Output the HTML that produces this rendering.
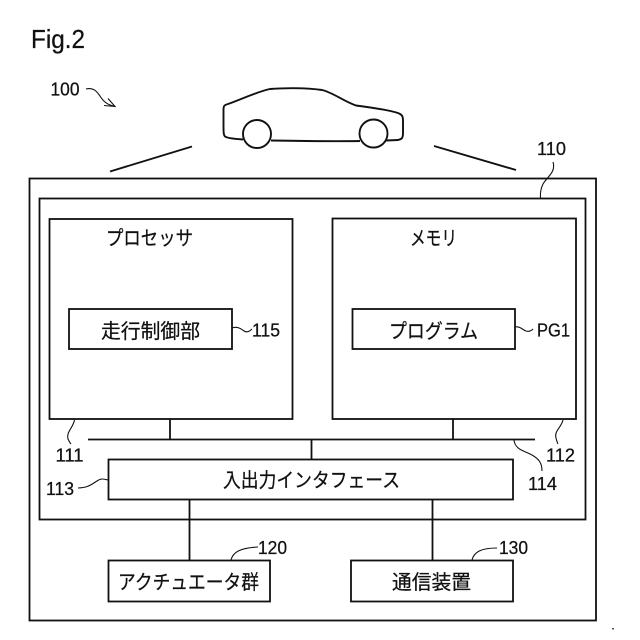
<!DOCTYPE html>
<html>
<head>
<meta charset="utf-8">
<style>
html,body{margin:0;padding:0;background:#fff;width:640px;height:640px;overflow:hidden}
svg{display:block}
text{font-family:"Liberation Sans","Noto Sans CJK JP",sans-serif;fill:#111;stroke:#111;stroke-width:.25}
.j{font-size:20px}
.n{font-size:18px}
</style>
</head>
<body>
<svg width="640" height="640" viewBox="0 0 640 640" xmlns="http://www.w3.org/2000/svg">
<rect width="640" height="640" fill="#fff"/>
<g fill="none" stroke="#111" stroke-width="1.8">
  <rect x="29.5" y="178.5" width="566.5" height="442"/>
  <rect x="39.5" y="198.5" width="546" height="321"/>
  <rect x="49.5" y="219" width="243" height="200"/>
  <rect x="332.5" y="218.5" width="243.5" height="200.5"/>
  <rect x="69" y="309" width="163" height="40"/>
  <rect x="352.5" y="309" width="162.5" height="40"/>
  <rect x="108.5" y="459.5" width="404.5" height="40"/>
  <rect x="108.5" y="560.5" width="161.5" height="41"/>
  <rect x="351" y="560.5" width="162" height="41"/>
  <path d="M88 439.5H535M170 419V439.5M453 419V439.5M311.5 439.5V459.5M189.5 499.5V560.5M432.5 499.5V560.5"/>
  <path d="M110 171.5L192 146.5M434 146L516 170" stroke-width="1.9"/>
  <path d="M243 139.5C236 139 227 138 225 136.5C223.5 135 223.5 132 223.5 126L223.500 110C223.500 106 224 105 228 104C240 100 256 92 270 89C282 88 305 87.500 322 90C332 92 345 102 356 105.500C375 108 395 111 400 114C403 115.500 403 118 403 122L403 133C403 138 402 139 398 140L386 140.500M271 140.500C300 141 330 141.500 360 141" stroke-width="1.9"/>
  <circle cx="257" cy="134" r="14" stroke-width="1.9"/>
  <circle cx="373.500" cy="133.500" r="14" stroke-width="1.9"/>
  <g stroke-width="1.1">
    <path d="M86 89C94 87 97 92 100 96C103 101 107 105 114 106M104 105.500L115 106.500L108 98.500"/>
    <path d="M553 162C556 172 548 176 543 184C541 188 540 192 540.500 198"/>
    <path d="M74.500 420C73 428 66 432 68 439C69 441 70 443 71 444"/>
    <path d="M563 420C561 428 554 431 556 438C556.500 440 557 442 558 444"/>
    <path d="M514 440C515 450 525 451 532 455C539 459 542 463 542 471"/>
    <path d="M78 488C88 488 92 484 97 481C101 478 104 479 108 480"/>
    <path d="M231 560C233 552 240 548 258 547"/>
    <path d="M472 560C474 552 481 548 497 548"/>
    <path d="M232 328C238 326 241 329 244 331C247 333 250 331 252 329"/>
    <path d="M515 327C520 326 523 330 526 331C529 332 531 331 533 329"/>
  </g>
</g>
<rect x="612" y="628" width="2" height="1.500" fill="#555"/>
<text x="31" y="48" font-size="26" textLength="54" lengthAdjust="spacingAndGlyphs">Fig.2</text>
<text class="n" x="50.500" y="95.500" textLength="29" lengthAdjust="spacingAndGlyphs">100</text>
<text class="n" x="537" y="155" textLength="29" lengthAdjust="spacingAndGlyphs">110</text>
<text class="j" x="106" y="245" textLength="87" lengthAdjust="spacingAndGlyphs">プロセッサ</text>
<text class="j" x="410" y="245" textLength="47" lengthAdjust="spacingAndGlyphs">メモリ</text>
<text class="j" x="101" y="338" textLength="99" lengthAdjust="spacingAndGlyphs">走行制御部</text>
<text class="j" x="389" y="338" textLength="89" lengthAdjust="spacingAndGlyphs">プログラム</text>
<text class="n" x="252" y="336.500" textLength="28" lengthAdjust="spacingAndGlyphs">115</text>
<text class="n" x="537" y="336.500" textLength="33" lengthAdjust="spacingAndGlyphs">PG1</text>
<text class="n" x="55.500" y="461.500" textLength="28" lengthAdjust="spacingAndGlyphs">111</text>
<text class="n" x="546" y="461.500" textLength="29" lengthAdjust="spacingAndGlyphs">112</text>
<text class="n" x="46" y="495" textLength="28" lengthAdjust="spacingAndGlyphs">113</text>
<text class="n" x="528" y="490" textLength="29" lengthAdjust="spacingAndGlyphs">114</text>
<text class="j" x="223" y="487" textLength="177" lengthAdjust="spacingAndGlyphs">入出力インタフェース</text>
<text class="j" x="118" y="589" textLength="141" lengthAdjust="spacingAndGlyphs">アクチュエータ群</text>
<text class="j" x="392" y="589" textLength="79" lengthAdjust="spacingAndGlyphs">通信装置</text>
<text class="n" x="258" y="554" textLength="29" lengthAdjust="spacingAndGlyphs">120</text>
<text class="n" x="499" y="554" textLength="29" lengthAdjust="spacingAndGlyphs">130</text>
</svg>
</body>
</html>
